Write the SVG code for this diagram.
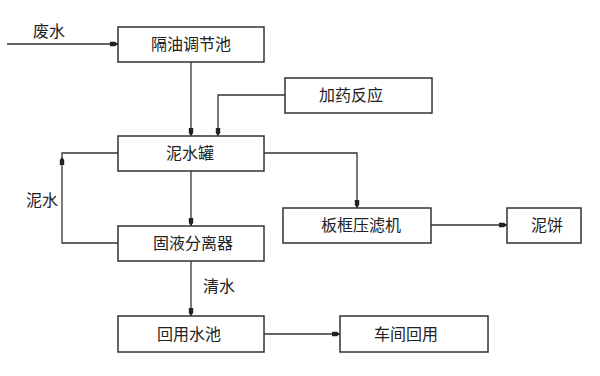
<svg xmlns="http://www.w3.org/2000/svg" width="600" height="376" viewBox="0 0 600 376">
<style>
.box{fill:#fff;stroke:#333;stroke-width:1.5}
.ln{fill:none;stroke:#333;stroke-width:1.3}
.t{font-family:"Liberation Sans","Noto Sans CJK SC",sans-serif;font-size:16px;fill:#222;text-anchor:middle;dominant-baseline:central}
</style>
<defs>
<marker id="a" markerUnits="userSpaceOnUse" markerWidth="10" markerHeight="8" viewBox="0 -4 10 8" refX="8" refY="0" orient="auto">
<path d="M0,-2.2 L5,-2.2 L8,0 L5,2.2 L0,2.2 Z" fill="#222"/>
</marker>
</defs>
<rect width="600" height="376" fill="#fff"/>
<g id="connectors">
<line class="ln" x1="7" y1="44" x2="118" y2="44" marker-end="url(#a)"/>
<text class="t" x="49" y="31">废水</text>
<line class="ln" x1="191" y1="62" x2="191" y2="136" marker-end="url(#a)"/>
<path class="ln" d="M285,95 H218 V136" marker-end="url(#a)"/>
<path class="ln" d="M264,153 H357 V208" marker-end="url(#a)"/>
<line class="ln" x1="431" y1="225" x2="507" y2="225" marker-end="url(#a)"/>
<line class="ln" x1="191" y1="171" x2="191" y2="226" marker-end="url(#a)"/>
<path class="ln" d="M118,243 H62 V157" marker-end="url(#a)"/>
<path class="ln" d="M62,157 V153 H118"/>
<text class="t" x="42" y="200">泥水</text>
<line class="ln" x1="191" y1="261" x2="191" y2="316" marker-end="url(#a)"/>
<text class="t" x="219" y="286">清水</text>
<line class="ln" x1="264" y1="334" x2="340" y2="334" marker-end="url(#a)"/>
</g>
<g id="n1"><rect class="box" x="118" y="27" width="146" height="35"/><text class="t" x="191" y="44.5">隔油调节池</text></g>
<g id="n2"><rect class="box" x="285" y="78" width="147" height="35"/><text class="t" x="351" y="95.5">加药反应</text></g>
<g id="n3"><rect class="box" x="118" y="136" width="146" height="35"/><text class="t" x="190" y="153.5">泥水罐</text></g>
<g id="n4"><rect class="box" x="283" y="208" width="148" height="35"/><text class="t" x="361" y="225.5">板框压滤机</text></g>
<g id="n5"><rect class="box" x="507" y="208" width="74" height="35"/><text class="t" x="547" y="225.5">泥饼</text></g>
<g id="n6"><rect class="box" x="118" y="226" width="146" height="35"/><text class="t" x="193" y="243.5">固液分离器</text></g>
<g id="n7"><rect class="box" x="118" y="316" width="146" height="36"/><text class="t" x="189" y="334">回用水池</text></g>
<g id="n8"><rect class="box" x="340" y="316" width="148" height="36"/><text class="t" x="406" y="334">车间回用</text></g>
</svg>
